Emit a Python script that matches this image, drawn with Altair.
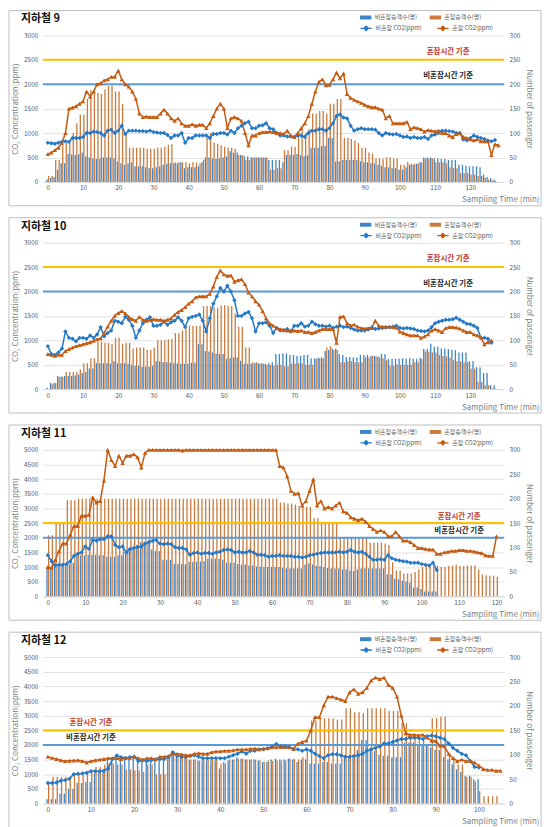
import altair as alt
import pandas as pd

# ---------------- data ----------------
TITLES = ["지하철 9", "지하철 10", "지하철 11", "지하철 12"]
BAR_NAMES = ["비혼잡승객수(명)", "혼잡승객수(명)"]
LINE_NAMES = ["비혼잡 CO2(ppm)", "혼잡 CO2(ppm)"]
REF_NAMES = ["혼잡시간 기준", "비혼잡시간 기준"]
REF_LEVELS = [2500, 2000]

# 지하철 9
co2_blue_9 = [800,790,780,800,820,830,820,900,900,900,
              920,1000,1000,1030,1020,1000,950,1050,1070,1000,
              1050,1150,980,1050,1050,1050,1040,1040,1030,1050,
              1020,1010,1000,1000,960,900,950,950,1000,800,
              900,900,950,950,950,950,900,980,980,1000,
              1000,970,1050,1000,1100,1150,1200,1230,1100,1100,
              1150,1160,1200,1100,1080,
              1000,950,950,930,930,920,950,950,920,1000,
              1050,1050,1080,1080,1050,1100,1200,1350,1380,1320,
              1300,1150,1050,1080,1100,1080,1080,1080,1070,1000,
              950,1000,980,970,980,950,920,930,900,920,
              900,900,920,880,950,970,1000,1050,1050,1040,
              1030,1000,1000,870,850,900,950,920,900,880,
              850,830,860]
co2_orange_9 = [570,600,650,700,800,1000,1500,1520,1550,1600,
                1650,1850,1750,1850,2000,2020,2080,2100,2150,2150,
                2280,2100,2000,1950,1850,1700,1400,1330,1340,1330,
                1330,1330,1400,1480,1400,1300,1250,1300,1200,1150,
                1150,1180,1150,1170,1170,1100,1200,1350,1500,1600,
                1500,1100,1300,1330,1300,1250,1000,750,950,950,
                1000,1020,1020,1030,1020,
                1000,1000,980,1050,950,920,1000,1100,1200,1350,
                1600,1850,2050,2100,1980,1990,2100,2240,2120,2220,
                1800,1720,1680,1650,1620,1580,1550,1530,1530,1500,
                1480,1300,1350,1200,1200,1200,1200,1230,1080,1120,
                1100,1080,1030,1060,1050,1040,1050,1000,1000,950,
                920,980,1000,920,900,870,850,870,830,830,
                830,550,770,750]
pas_blue_9 = [5,8,10,25,38,38,57,56,55,57,
              60,52,50,48,47,48,50,50,50,48,
              42,38,35,38,40,32,32,32,30,28,
              28,30,32,35,37,38,38,38,40,28,
              30,30,30,32,40,50,50,48,47,48,
              50,52,63,60,60,55,53,52,50,50,
              50,50,50,45,45,
              45,45,40,55,55,55,57,55,53,55,
              70,70,70,73,74,90,90,42,42,45,
              45,45,45,45,42,40,40,38,38,35,
              33,30,30,28,28,25,25,30,35,35,
              37,40,50,50,50,48,48,47,47,45,
              45,45,35,35,33,32,32,32,30,15,
              10,8,5]
pas_orange_9 = [12,12,45,45,75,80,80,100,120,138,
                138,170,188,188,182,180,190,197,197,185,
                185,160,100,70,70,70,70,70,68,68,
                68,70,70,72,76,77,40,40,40,40,
                38,40,40,38,45,95,100,80,78,75,
                72,70,70,68,55,55,45,45,50,50,
                50,50,50,25,25,
                28,28,65,65,72,72,100,108,100,108,
                140,140,145,145,140,160,160,170,170,90,
                90,88,85,80,70,70,60,58,48,48,
                47,50,50,48,48,35,35,40,37,37,
                38,40,48,48,48,40,40,40,38,30,
                28,28,18,18,18,15,15,12,12,8,
                5,3,2]

# 지하철 10
co2_blue_10 = [880,720,700,750,830,1180,1050,1030,980,1050,
               1050,1030,1100,1050,1120,1270,1080,1150,1200,1400,
               1380,1350,1480,1420,1300,1050,1200,1350,1420,1470,
               1300,1300,1320,1380,1320,1370,1400,1470,1400,1270,
               1450,1480,1500,1530,1400,1180,1450,1750,1900,2070,
               2000,2120,2000,1820,1500,1500,1550,1580,1450,1180,
               1350,1350,1370,1300,1150,
               1250,1200,1200,1230,1180,1300,1300,1350,1280,1300,
               1380,1330,1300,1300,1280,1300,1250,1280,1300,1270,
               1280,1250,1220,1200,1200,1200,1220,1260,1230,1240,
               1250,1260,1270,1280,1300,1250,1240,1250,1240,1230,
               1200,1190,1180,1200,1270,1350,1380,1400,1420,1420,
               1430,1460,1420,1380,1340,1330,1300,1250,1050,1050,
               1030,950]
co2_orange_10 = [720,700,680,700,700,780,820,850,880,900,
                 920,940,960,990,1020,1040,1150,1280,1400,1500,
                 1560,1600,1550,1480,1430,1400,1480,1420,1400,1420,
                 1430,1420,1420,1400,1420,1450,1520,1580,1620,1680,
                 1750,1800,1880,1900,1900,1900,1950,2100,2300,2430,
                 2350,2320,2330,2200,2230,2250,2150,1980,1900,1800,
                 1730,1600,1450,1350,1300,
                 1250,1230,1220,1200,1200,1200,1190,1200,1170,1170,
                 1150,1170,1200,1230,1230,1230,1230,950,1480,1490,
                 1350,1300,1320,1280,1250,1240,1250,1250,1400,1300,
                 1280,1280,1280,1270,1260,1180,1150,1120,1100,1100,
                 1100,1050,1080,1120,1200,1230,1200,1170,1250,1270,
                 1270,1260,1240,1200,1170,1170,1120,1100,1060,920,
                 960,1000]
pas_blue_10 = [3,13,13,27,26,27,27,27,28,30,
               33,35,42,42,53,53,53,53,52,57,
               53,53,53,52,50,48,48,46,46,46,
               48,57,57,55,55,54,53,53,52,52,
               52,54,54,92,92,78,77,75,73,72,
               72,62,63,65,65,58,52,52,52,53,
               53,53,52,53,55,
               72,72,73,73,70,70,68,68,70,70,
               63,63,64,65,78,80,83,83,72,70,
               66,66,65,65,70,70,70,68,68,67,
               72,72,62,62,62,62,63,62,63,62,
               62,64,82,82,93,87,87,83,83,82,
               80,80,75,75,75,57,57,45,45,33,
               33,8,8]
pas_orange_10 = [0,10,12,25,25,35,35,35,35,40,
                 53,53,63,63,97,97,95,95,92,105,
                 105,93,95,95,83,85,85,85,80,80,
                 85,100,100,100,102,102,115,115,120,128,
                 130,130,130,130,170,170,170,167,167,172,
                 172,170,170,155,128,128,85,85,55,55,
                 52,52,50,50,48,
                 50,50,47,47,52,52,53,53,50,50,
                 50,62,63,63,85,88,80,80,55,55,
                 57,57,55,55,55,65,65,68,67,65,
                 63,60,48,48,50,50,50,50,50,55,
                 55,62,77,77,75,75,70,68,67,65,
                 60,57,57,55,55,42,42,15,15,8,
                 8,2,2]

# 지하철 11
co2_blue_11 = [1400,1200,1050,1080,1080,1100,1200,1380,1450,1500,
               1700,1620,1920,1900,1950,1950,2050,2050,1750,1680,
               1700,1500,1620,1650,1680,1700,1800,1850,1900,1920,
               1800,1780,1800,1780,1680,1650,1650,1600,1420,1480,
               1500,1450,1480,1480,1450,1500,1520,1580,1600,1580,
               1500,1520,1500,1500,1550,1500,1420,1420,1400,1350,
               1380,1380,1400,1380,1380,1380,1350,1350,1330,1350,
               1400,1420,1450,1480,1500,1500,1500,1500,1520,1500,
               1520,1580,1520,1500,1520,1450,1350,1250,1250,1270,
               1250,1400,1300,1250,1220,1200,1180,1150,1150,1150,
               1100,1080,1050,1150,900]
co2_orange_11 = [1000,980,1250,1550,1800,1800,2100,2400,2400,2750,
                 2750,2780,3380,3200,3250,3950,5000,4650,4450,4800,
                 4550,4800,4800,4850,4750,4400,4900,5000,5000,5000,
                 5000,5000,5000,5000,5000,5000,4980,5000,5000,5000,
                 5000,5000,5000,5000,5000,5000,5000,5000,5000,5000,
                 5000,5000,5000,5000,5000,5000,5000,5000,5000,5000,
                 5000,5000,
                 4450,4400,4100,3600,3500,3520,3100,3250,3600,4000,
                 3100,3250,3000,3050,3000,3100,3200,2900,2850,2700,
                 2650,2600,2650,2550,2400,2300,2200,2250,2200,2050,
                 2050,2200,2050,1900,1900,1850,1750,1650,1650,1620,
                 1600,1600,1450,1450,1500,1520,1550,1550,1580,1580,
                 1550,1550,1530,1500,1480,1400,1380,1380,2050]
pas_blue_11 = [60,60,63,63,63,63,66,69,84,84,
               84,85,85,85,84,84,81,81,81,84,
               84,87,99,99,105,111,111,111,96,93,
               93,75,75,75,66,66,66,66,71,71,
               71,71,72,77,77,77,77,75,69,69,
               69,66,65,65,63,63,61,61,60,60,
               60,60,60,59,57,57,57,57,57,65,
               68,65,62,62,60,58,57,57,57,55,
               55,53,52,55,57,57,57,57,57,57,
               57,45,45,36,35,32,30,28,18,18,
               15,10,10,10,10]
pas_orange_11 = [125,125,150,150,150,197,197,197,200,200,
                 200,200,200,200,200,200,200,200,200,200,
                 200,200,200,200,200,200,200,200,200,200,
                 200,200,200,200,200,200,200,200,200,200,
                 200,200,200,200,200,200,200,200,200,200,
                 200,200,200,200,200,200,200,200,200,200,
                 200,200,
                 192,192,190,190,188,185,185,183,183,160,
                 160,150,150,150,150,150,120,120,120,120,
                 120,120,120,120,110,110,110,110,108,105,
                 70,53,53,47,47,47,50,55,60,63,
                 63,63,63,60,60,62,63,65,62,62,
                 63,63,63,55,45,43,42,42,40]

# 지하철 12
co2_blue_12 = [700,700,720,780,800,850,1000,1020,1030,1050,
               1100,1100,1100,1120,1200,1520,1640,1580,1560,1580,
               1600,1450,1480,1450,1480,1500,1520,1520,1600,1750,
               1650,1600,1600,1620,1650,1600,1550,1550,1550,1550,
               1550,1550,1600,1650,1700,1780,1700,1800,1800,1850,
               1850,1880,1950,2030,1950,1950,1920,1850,1850,1800,
               1850,1800,1700,1620,1550,1650,1680,1680,1650,1600,
               1600,1620,1650,1700,1800,1850,1900,1950,2050,2050,
               2100,2150,2200,2200,2250,2250,2250,2200,2300,2320,
               2300,2250,2200,2050,1900,1800,1700,1650,1450,1250,
               1230]
co2_orange_12 = [1600,1560,1520,1480,1450,1460,1470,1480,1450,1400,
                 1450,1480,1500,1520,1550,1550,1550,1520,1550,1560,
                 1600,1550,1500,1550,1550,1520,1600,1600,1620,1700,
                 1700,1680,1650,1650,1700,1720,1700,1700,1750,1780,
                 1780,1800,1800,1820,1850,1850,1850,1870,1880,1850,
                 1880,1900,1920,1920,1930,1930,1930,1870,2050,2100,
                 2150,2500,2950,2950,3350,3650,3650,3600,3550,3500,
                 3800,3900,3750,3800,3950,4200,4300,4250,4300,4050,
                 3950,3650,3000,2400,2350,2350,2330,2350,2250,2150,
                 2130,1980,1950,1700,1550,1450,1500,1450,1450,1400,
                 1300,1180,1150,1150,1120,1120]
pas_blue_12 = [9,9,9,20,20,30,30,42,42,44,
               44,62,65,70,90,95,93,95,95,95,
               95,93,88,85,85,90,92,93,97,98,
               98,97,97,90,90,88,88,88,88,88,
               72,85,88,90,95,92,90,90,90,88,
               85,85,90,92,90,90,92,90,85,90,
               90,82,82,82,85,85,82,82,82,95,
               95,95,110,130,130,115,108,100,98,98,
               95,95,95,125,125,125,120,120,118,115,
               110,110,95,90,80,70,65,57,57,50,
               50]
pas_orange_12 = [45,55,55,55,55,55,60,62,65,65,
                 68,75,75,80,82,82,80,80,70,70,
                 68,68,65,80,80,60,60,60,95,100,
                 100,97,97,90,90,88,90,90,90,90,
                 82,82,90,90,92,92,90,90,90,88,
                 85,88,87,88,88,88,92,92,90,95,
                 115,170,170,175,175,175,175,172,172,195,
                 195,187,187,185,195,195,195,195,195,190,
                 190,190,165,165,140,140,135,135,120,175,
                 175,178,178,100,95,80,80,55,55,45,
                 25,15,15,15,15]

X_MAX = [128.2, 128.2, 120.7, 104.7]
X_TICKS = [list(range(0, 121, 10)), list(range(0, 121, 10)),
           list(range(0, 121, 10)), list(range(0, 101, 10))]
Y_MAX = [3000, 3000, 5000, 5000]
PAS_MAX = 300
# where the reference-line labels sit (minute, ppm)
LABEL_T = [113.7, 113.7, 110.0, 10.0]
LABEL_CONGESTED_Y = [2660, 2660, 2720, 2750]
LABEL_NORMAL_Y = [2160, 2160, 2230, 2230]

SERIES = [
    (co2_blue_9, co2_orange_9, pas_blue_9, pas_orange_9),
    (co2_blue_10, co2_orange_10, pas_blue_10, pas_orange_10),
    (co2_blue_11, co2_orange_11, pas_blue_11, pas_orange_11),
    (co2_blue_12, co2_orange_12, pas_blue_12, pas_orange_12),
]

# ---------------- style ----------------
FONT = "Noto Sans CJK KR"
BLUE_LINE = "#2579C7"
ORANGE_LINE = "#C55A11"
BLUE_BAR = "#3D85C8"
ORANGE_BAR = "#CB7A3C"
YELLOW = "#FFC000"
REF_BLUE = "#5B9BD5"
LABEL_GRAY = "#595959"
TITLE_GRAY = "#7F7F7F"
W, H = 463, 147


def make_panel(i):
    cb, co, pb, po = SERIES[i]
    ymax = Y_MAX[i]

    co2_df = pd.concat([
        pd.DataFrame({"t": range(len(cb)), "co2": cb, "series": LINE_NAMES[0]}),
        pd.DataFrame({"t": range(len(co)), "co2": co, "series": LINE_NAMES[1]}),
    ])
    pas_df = pd.concat([
        pd.DataFrame({"t": range(len(pb)), "pas": pb, "series": BAR_NAMES[0]}),
        pd.DataFrame({"t": range(len(po)), "pas": po, "series": BAR_NAMES[1]}),
    ])
    ref_df = pd.DataFrame({"co2": REF_LEVELS, "name": REF_NAMES})
    lab_df = pd.DataFrame({
        "t": [LABEL_T[i], LABEL_T[i]],
        "co2": [LABEL_CONGESTED_Y[i], LABEL_NORMAL_Y[i]],
        "name": REF_NAMES,
    })
    title_df = pd.DataFrame({"label": [TITLES[i]]})

    x_axis = alt.Axis(values=X_TICKS[i], labelFontSize=6.5, labelColor=LABEL_GRAY,
                      labelPadding=3, ticks=False, grid=False, domainColor="#D9D9D9",
                      labelFlush=False, format="d",
                      title="Sampling Time (min)", titleFontSize=8, titleColor=TITLE_GRAY,
                      titleFontWeight="normal", titleX=W + 35, titleY=18,
                      titleAlign="right", titleBaseline="middle")
    X = alt.X("t:Q", scale=alt.Scale(domain=[0, X_MAX[i]], nice=False, zero=False), axis=x_axis)

    left_axis = alt.Axis(values=list(range(0, ymax + 1, 500)), labelFontSize=6.5, format="d",
                         labelColor=LABEL_GRAY, labelPadding=5, domain=False, ticks=False,
                         grid=True, gridColor="#D9D9D9", gridWidth=0.8,
                         title="CO₂ Concentration(ppm)", titleFontSize=8,
                         titleColor=TITLE_GRAY, titleFontWeight="normal", titlePadding=4)
    Y_left = alt.Y("co2:Q", scale=alt.Scale(domain=[0, ymax], nice=False), axis=left_axis)

    right_axis = alt.Axis(orient="right", values=list(range(0, PAS_MAX + 1, 50)), format="d",
                          labelFontSize=6.5, labelColor=LABEL_GRAY, labelPadding=5,
                          domain=False, ticks=False, grid=False,
                          title="Number of passenger", titleFontSize=8,
                          titleColor=TITLE_GRAY, titleFontWeight="normal", titlePadding=5)
    Y_right = alt.Y("pas:Q", scale=alt.Scale(domain=[0, PAS_MAX], nice=False), axis=right_axis)

    bar_legend = alt.Legend(title=None, orient="none", legendX=318, legendY=-24,
                            direction="horizontal", symbolType="M-1,-0.35H1V0.35H-1Z",
                            symbolSize=130, symbolStrokeWidth=0, labelFontSize=6,
                            labelColor=LABEL_GRAY, labelFont=FONT, labelOffset=3,
                            columnPadding=12, padding=0)
    line_legend = alt.Legend(title=None, orient="none", legendX=318, legendY=-14,
                             direction="horizontal",
                             symbolType="M-1,0H1M0,-0.38L0.38,0L0,0.38L-0.38,0Z",
                             symbolSize=130, symbolStrokeWidth=1.3, labelFontSize=6,
                             labelColor=LABEL_GRAY, labelFont=FONT, labelOffset=3,
                             columnPadding=12, padding=0)

    bar_color = alt.Color("series:N", scale=alt.Scale(domain=BAR_NAMES, range=[BLUE_BAR, ORANGE_BAR]),
                          legend=bar_legend)
    bars_b = alt.Chart(pas_df).transform_filter(alt.datum.series == BAR_NAMES[0]).mark_bar(
        size=1.3, xOffset=-0.8).encode(x=X, y=Y_right, color=bar_color)
    bars_o = alt.Chart(pas_df).transform_filter(alt.datum.series == BAR_NAMES[1]).mark_bar(
        size=1.3, xOffset=0.8).encode(x=X, y=Y_right, color=bar_color)
    right = alt.layer(bars_b, bars_o)

    frame = alt.Chart(title_df).mark_rect(fill="white", fillOpacity=0, stroke="#BFBFBF",
                                          strokeWidth=1).encode(
        x=alt.value(-34), x2=alt.value(W + 37), y=alt.value(-25), y2=alt.value(H + 24))
    title = alt.Chart(title_df).mark_text(align="left", baseline="middle", fontSize=11,
                                          fontWeight="bold", color="#111111", font=FONT).encode(
        text="label:N", x=alt.value(-22), y=alt.value(-16))

    rule_y = alt.Chart(ref_df).transform_filter(alt.datum.name == REF_NAMES[0]).mark_rule(
        color=YELLOW, strokeWidth=2).encode(y=Y_left)
    rule_b = alt.Chart(ref_df).transform_filter(alt.datum.name == REF_NAMES[1]).mark_rule(
        color=REF_BLUE, strokeWidth=2).encode(y=Y_left)
    lab_y = alt.Chart(lab_df).transform_filter(alt.datum.name == REF_NAMES[0]).mark_text(
        fontSize=7.5, fontWeight="bold", color="#C0392B", font=FONT).encode(
        x=X, y=Y_left, text="name:N")
    lab_b = alt.Chart(lab_df).transform_filter(alt.datum.name == REF_NAMES[1]).mark_text(
        fontSize=7.5, fontWeight="bold", color="#262626", font=FONT).encode(
        x=X, y=Y_left, text="name:N")

    line_color = alt.Color("series:N",
                           scale=alt.Scale(domain=LINE_NAMES, range=[BLUE_LINE, ORANGE_LINE]),
                           legend=line_legend)
    point_color = alt.Color("series:N",
                            scale=alt.Scale(domain=LINE_NAMES, range=[BLUE_LINE, ORANGE_LINE]),
                            legend=None)
    lines = alt.Chart(co2_df).mark_line(strokeWidth=1.5).encode(
        x=X, y=Y_left, color=line_color, detail="series:N")
    points = alt.Chart(co2_df).mark_point(filled=True, size=20, opacity=1).encode(
        x=X, y=Y_left, color=point_color,
        shape=alt.Shape("series:N", scale=alt.Scale(domain=LINE_NAMES,
                                                    range=["diamond", "triangle-up"]),
                        legend=None))
    left = alt.layer(frame, title, rule_y, rule_b, lab_y, lab_b, lines, points)

    return alt.layer(right, left).resolve_scale(y="independent", color="independent").properties(
        width=W, height=H)


chart = alt.vconcat(*[make_panel(i) for i in range(4)], spacing=10).resolve_scale(
    color="independent", shape="independent").properties(padding=0, background="white").configure(
    font=FONT).configure_view(stroke="transparent")

chart.save("out.html", embed_options={"renderer": "svg", "actions": False})
